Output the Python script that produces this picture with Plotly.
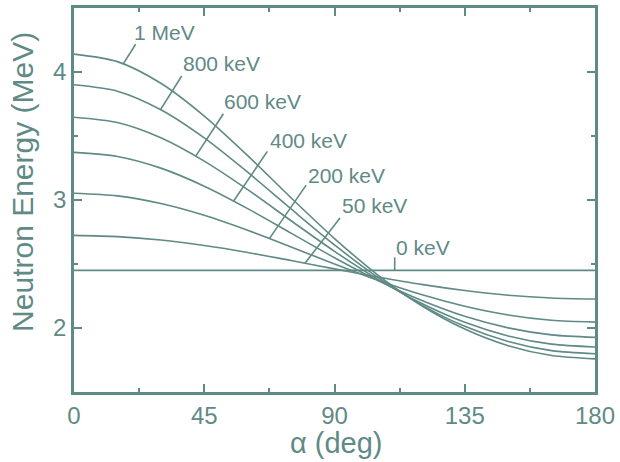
import numpy as np
import plotly.graph_objects as go

# Neutron energy from D(d,n)3He versus emission angle, one curve per deuteron energy
angle_deg = [0, 15, 30, 45, 60, 75, 90, 105, 120, 135, 150, 165, 180]

e_0keV = [2.450, 2.450, 2.450, 2.450, 2.450, 2.450, 2.450, 2.450, 2.450, 2.450, 2.450, 2.450, 2.450]
e_50keV = [2.724, 2.714, 2.687, 2.644, 2.590, 2.527, 2.462, 2.399, 2.341, 2.293, 2.256, 2.234, 2.226]
e_200keV = [3.053, 3.032, 2.972, 2.880, 2.763, 2.633, 2.500, 2.373, 2.261, 2.170, 2.102, 2.060, 2.046]
e_400keV = [3.372, 3.340, 3.249, 3.108, 2.933, 2.741, 2.549, 2.371, 2.216, 2.091, 2.001, 1.946, 1.927]
e_600keV = [3.647, 3.605, 3.486, 3.304, 3.081, 2.838, 2.599, 2.380, 2.193, 2.044, 1.938, 1.874, 1.852]
e_800keV = [3.900, 3.850, 3.705, 3.485, 3.217, 2.930, 2.649, 2.395, 2.181, 2.013, 1.894, 1.823, 1.799]
e_1MeV = [4.140, 4.081, 3.912, 3.656, 3.347, 3.017, 2.699, 2.414, 2.176, 1.992, 1.862, 1.785, 1.759]

curve_names = ["0 keV", "50 keV", "200 keV", "400 keV", "600 keV", "800 keV", "1 MeV"]
curves = [e_0keV, e_50keV, e_200keV, e_400keV, e_600keV, e_800keV, e_1MeV]

# Label placement: angle where the leader touches the curve, leader end (deg, MeV),
# and left edge / vertical centre of the label text (deg, MeV)
label_tip_angle = [110.8, 79.8, 67.5, 55.1, 42.0, 29.9, 16.9]
label_end = [(110.8, 2.552), (91.9, 2.860), (80.2, 3.116), (66.8, 3.380),
             (51.6, 3.674), (37.2, 3.969), (21.3, 4.217)]
label_text_pos = [(110.4, 2.632), (91.8, 2.954), (80.1, 3.195), (67.1, 3.466),
                  (51.2, 3.766), (37.0, 4.066), (20.2, 4.311)]

ink = "#5f8a86"
font_family = "Liberation Sans, Arial, sans-serif"

fig = go.Figure()
for name, vals in zip(curve_names, curves):
    fig.add_trace(go.Scatter(
        x=angle_deg, y=vals, mode="lines", name=name,
        line=dict(color=ink, width=1.6, shape="spline", smoothing=0.8),
        showlegend=False, hoverinfo="skip",
    ))

for name, vals, tip, end, tpos in zip(curve_names, curves, label_tip_angle,
                                      label_end, label_text_pos):
    tip_e = float(np.interp(tip, angle_deg, vals))
    fig.add_shape(type="line", xref="x", yref="y",
                  x0=tip, y0=tip_e, x1=end[0], y1=end[1],
                  line=dict(color=ink, width=1.6))
    fig.add_annotation(x=tpos[0], y=tpos[1], xref="x", yref="y",
                       text=name, showarrow=False, xanchor="left",
                       yanchor="middle",
                       font=dict(family=font_family, size=21, color=ink))

axis_common = dict(
    showline=True, linecolor=ink, linewidth=2.5, mirror="ticks",
    ticks="inside", ticklen=8, tickwidth=2, tickcolor=ink,
    showgrid=False, zeroline=False,
    tickfont=dict(family=font_family, size=24, color=ink),
)

fig.update_xaxes(range=[0, 180], tick0=0, dtick=45,
                 minor=dict(ticks="inside", ticklen=4, tickwidth=2,
                            tickcolor=ink, dtick=22.5, tick0=0),
                 **axis_common)
fig.update_yaxes(range=[1.5, 4.5], tick0=0, dtick=1,
                 minor=dict(ticks="inside", ticklen=4, tickwidth=2,
                            tickcolor=ink, dtick=0.5, tick0=0),
                 **axis_common)

# Axis titles
fig.add_annotation(x=-0.098, y=0.547, xref="paper", yref="paper",
                   text="Neutron Energy (MeV)", textangle=-90, showarrow=False,
                   xanchor="center", yanchor="middle",
                   font=dict(family=font_family, size=30, color=ink))
fig.add_annotation(x=0.503, y=-0.132, xref="paper", yref="paper",
                   text="α (deg)", showarrow=False,
                   xanchor="center", yanchor="middle",
                   font=dict(family=font_family, size=29, color=ink))

fig.update_layout(
    width=620, height=462,
    margin=dict(l=74, r=23, t=5, b=70),
    paper_bgcolor="white", plot_bgcolor="white",
)

fig.write_html("out.html")
